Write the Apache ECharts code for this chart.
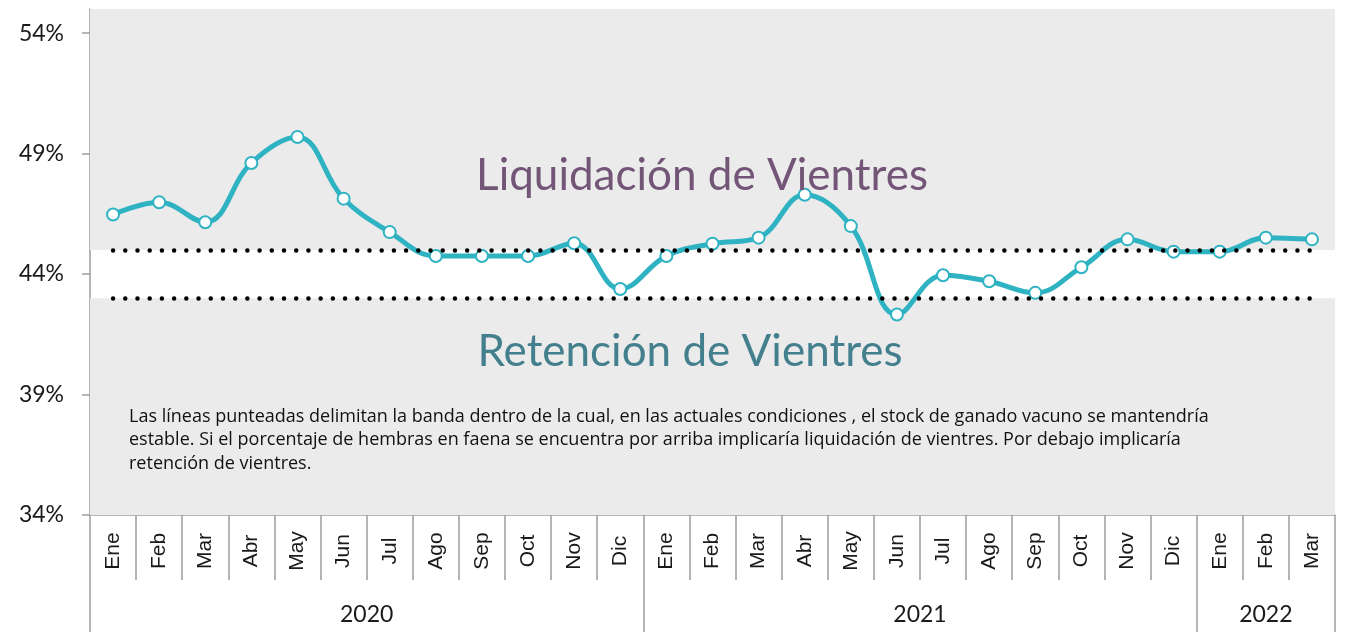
<!DOCTYPE html>
<html>
<head>
<meta charset="utf-8">
<script src="https://cdn.jsdelivr.net/npm/echarts@6/dist/echarts.min.js"></script>
<style>
html,body{margin:0;padding:0;background:#fff;}
#chart{width:1350px;height:632px;}
</style>
</head>
<body>
<div id="chart"></div>
<script>
// ---- data ----
const months = ['Ene','Feb','Mar','Abr','May','Jun','Jul','Ago','Sep','Oct','Nov','Dic',
                'Ene','Feb','Mar','Abr','May','Jun','Jul','Ago','Sep','Oct','Nov','Dic',
                'Ene','Feb','Mar'];
const years = ['2020','2021','2022'];
const monthsPerYear = [12, 12, 3];
const hembrasPct = [46.47, 46.98, 46.15, 48.61, 49.69, 47.13, 45.74, 44.75, 44.75, 44.75, 45.28, 43.38,
                    44.75, 45.26, 45.51, 47.29, 45.99, 42.32, 43.95, 43.70, 43.22, 44.28, 45.44, 44.93,
                    44.93, 45.51, 45.44];
const bandUpper = 45;
const bandLower = 43;
const yTickValues = [34, 39, 44, 49, 54];
const yMin = 34, yMax = 55;
const titleUpper = 'Liquidación de Vientres';
const titleLower = 'Retención de Vientres';
const noteText = 'Las líneas punteadas delimitan la banda dentro de la cual, en las actuales condiciones , el stock de ganado vacuno se mantendría\nestable. Si el porcentaje de hembras en faena se encuentra por arriba implicaría liquidación de vientres. Por debajo implicaría\nretención de vientres.';

// derived year boundaries/centres from the month counts
const yearBounds = [0];
monthsPerYear.forEach(n => yearBounds.push(yearBounds[yearBounds.length - 1] + n));
const yearCenters = years.map((y, i) => (yearBounds[i] + yearBounds[i + 1]) / 2);

const FONT = 'Lato';
const AXIS_GRAY = '#9d9d9d';
const BG_GRAY = '#ebebeb';
const LINE_COLOR = '#2fb3c3';

const chart = echarts.init(document.getElementById('chart'), null, {renderer: 'canvas'});
chart.setOption({
  animation: false,
  backgroundColor: '#ffffff',
  grid: {left: 90, right: 15, top: 9, bottom: 117, containLabel: false, outerBoundsMode: 'none'},
  xAxis: [
    {
      type: 'category',
      data: months,
      boundaryGap: true,
      axisLine: {show: true, lineStyle: {color: AXIS_GRAY, width: 1.5}},
      axisTick: {show: true, length: 65, lineStyle: {color: AXIS_GRAY, width: 1.5}},
      axisLabel: {
        show: true, interval: 0, rotate: 90, margin: 36,
        align: 'center', verticalAlign: 'middle',
        fontFamily: 'Liberation Sans', fontSize: 21, color: '#1a1a1a'
      },
      splitLine: {show: false}
    },
    {
      type: 'value',
      position: 'bottom',
      min: 0, max: months.length,
      axisLine: {show: false},
      axisTick: {show: true, customValues: yearBounds, length: 118, inside: false,
                 lineStyle: {color: AXIS_GRAY, width: 1.5}},
      axisLabel: {
        show: true, customValues: yearCenters, margin: 100,
        verticalAlign: 'middle',
        formatter: function (v) {
          const i = yearCenters.findIndex(c => Math.abs(c - v) < 1e-6);
          return i >= 0 ? years[i] : '';
        },
        fontFamily: FONT, fontSize: 23, color: '#1a1a1a'
      },
      splitLine: {show: false}
    }
  ],
  yAxis: {
    type: 'value',
    min: yMin, max: yMax,
    axisLine: {show: true, lineStyle: {color: AXIS_GRAY, width: 1.5}},
    axisTick: {show: true, customValues: yTickValues, length: 8, lineStyle: {color: AXIS_GRAY, width: 1.5}},
    axisLabel: {
      show: true, customValues: yTickValues, margin: 26,
      formatter: v => v + '%',
      fontFamily: FONT, fontSize: 23, color: '#1a1a1a'
    },
    splitLine: {show: false}
  },
  series: [
    {
      type: 'line',
      xAxisIndex: 0,
      data: hembrasPct,
      smooth: 0.4,
      symbol: 'circle',
      symbolSize: 12,
      z: 3,
      lineStyle: {color: LINE_COLOR, width: 5},
      itemStyle: {color: '#ffffff', borderColor: LINE_COLOR, borderWidth: 2},
      markArea: {
        silent: true,
        itemStyle: {color: BG_GRAY},
        data: [
          [{yAxis: bandUpper}, {yAxis: yMax}],
          [{yAxis: yMin}, {yAxis: bandLower}]
        ]
      },
      markLine: {
        silent: true,
        symbol: ['none', 'none'],
        label: {show: false},
        lineStyle: {color: '#000000', width: 4.5, type: [0.01, 12.2], cap: 'round'},
        data: [
          [{coord: [0, bandUpper]}, {coord: [months.length - 1, bandUpper]}],
          [{coord: [0, bandLower]}, {coord: [months.length - 1, bandLower]}]
        ]
      }
    }
  ],
  graphic: [
    {type: 'text', x: 702, y: 176, z: 10,
     style: {text: titleUpper, fill: '#735577', font: '44px ' + FONT, align: 'center', verticalAlign: 'middle'}},
    {type: 'text', x: 690, y: 352, z: 10,
     style: {text: titleLower, fill: '#437f8d', font: '44px ' + FONT, align: 'center', verticalAlign: 'middle'}},
    {type: 'text', x: 129, y: 405, z: 10,
     style: {text: noteText, fill: '#111111', font: '18px "Open Sans"', lineHeight: 23.5, align: 'left', verticalAlign: 'top'}}
  ]
});
</script>
</body>
</html>
